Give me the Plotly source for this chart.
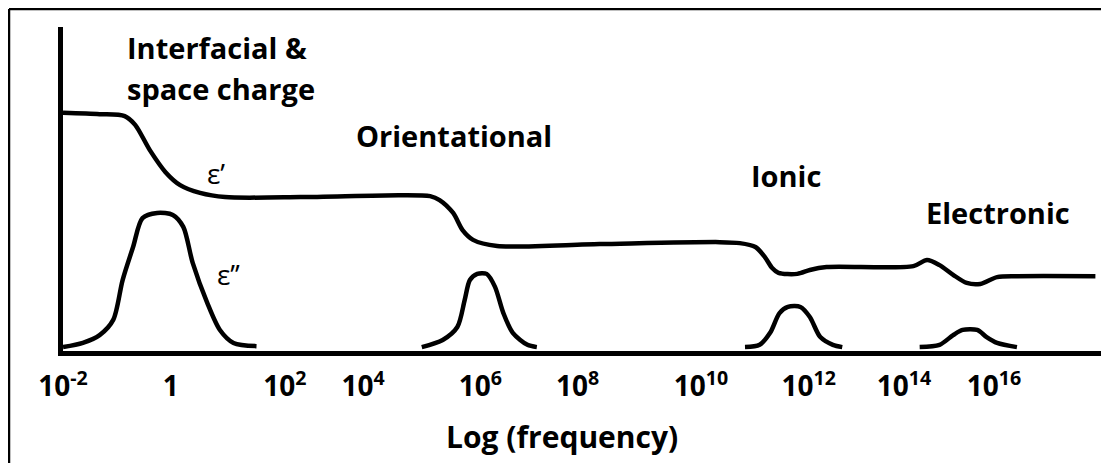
import plotly.graph_objects as go

# Schematic dielectric spectrum. x is a position along the (non-uniform) log-frequency
# axis, 0..100; y is relative permittivity / loss, 0..100.
tick_pos = [0, 10.3, 21.2, 28.7, 39.9, 49.2, 61.0, 71.3, 80.4, 89.0]
tick_text = ["10<sup>-2</sup>", "1", "10<sup>2</sup>", "10<sup>4</sup>", "10<sup>6</sup>",
             "10<sup>8</sup>", "10<sup>10</sup>", "10<sup>12</sup>", "10<sup>14</sup>",
             "10<sup>16</sup>"]

# real part, eps'
eps_real_x = [0, 3.5, 5.9, 6.9, 8.3, 9.8, 11.2, 13.1, 15.5, 22.7, 32.2, 35.1, 36.0, 37.3,
              38.2, 39.2, 41.5, 51.3, 62.8, 64.7, 66.2, 67.1, 67.8, 68.4, 70.2, 71.4, 73.0,
              81.3, 82.6, 83.8, 85.1, 86.4, 87.7, 89.3, 91.2, 98.7]
eps_real_y = [73.5, 73.1, 72.5, 69.8, 62.0, 55.2, 51.2, 48.8, 47.5, 47.5, 48.1, 47.8, 46.6,
              42.6, 37.3, 34.3, 32.4, 33.0, 33.6, 33.3, 32.1, 29.0, 25.6, 24.1, 23.8, 25.0,
              25.9, 26.2, 28.1, 26.5, 23.5, 21.0, 20.7, 22.8, 23.1, 23.1]

# loss peaks, eps''
interfacial_x = [0, 1.9, 3.5, 4.8, 5.7, 6.7, 7.6, 9.0, 10.5, 11.5, 12.4, 13.8, 15.0, 16.3, 18.5]
interfacial_y = [1.2, 2.5, 4.9, 9.6, 21.9, 32.1, 41.0, 42.6, 42.0, 38.3, 27.2, 14.8, 6.5, 2.5, 1.5]
orientational_x = [34.3, 36.3, 37.7, 38.4, 38.9, 39.6, 40.5, 41.3, 42.1, 43.0, 44.4, 45.3]
orientational_y = [1.2, 3.4, 7.4, 15.7, 21.9, 23.8, 23.8, 19.8, 11.7, 5.6, 1.9, 1.2]
ionic_x = [65.2, 66.6, 67.6, 68.5, 69.3, 70.5, 71.4, 72.4, 73.6, 74.5]
ionic_y = [1.2, 1.9, 5.6, 11.7, 13.6, 13.6, 10.5, 4.3, 1.9, 1.2]
electronic_x = [81.9, 83.8, 85.1, 86.0, 87.4, 88.3, 89.3, 91.2]
electronic_y = [1.2, 1.9, 4.9, 6.5, 6.5, 4.3, 2.5, 1.2]

labels = ["Interfacial &", "space charge", "Orientational", "Ionic", "Electronic"]
label_x = [5.9, 5.9, 37.4, 69.1, 89.4]
label_y = [93.8, 80.9, 66.4, 54.3, 42.6]
label_anchor = ["left", "left", "center", "center", "center"]

FONT = "Open Sans"
# page body has an 8px margin, so the figure is drawn 8px smaller and sits inside it
W, H = 1101, 455
L, T, B = 55, 19, 112
PW, PH = W - L, H - T - B

fig = go.Figure()
curves = [(eps_real_x, eps_real_y), (interfacial_x, interfacial_y),
          (orientational_x, orientational_y), (ionic_x, ionic_y),
          (electronic_x, electronic_y)]
for xs, ys in curves:
    fig.add_trace(go.Scatter(x=xs, y=ys, mode="lines",
                             line=dict(color="black", width=4.5, shape="spline", smoothing=0.8),
                             hoverinfo="skip", showlegend=False))

for text, x, y, anchor in zip(labels, label_x, label_y, label_anchor):
    fig.add_annotation(x=x, y=y, text=text, showarrow=False, xanchor=anchor, yanchor="middle",
                       font=dict(family=FONT, size=29, color="black", weight="bold"))

fig.add_annotation(x=14.6, y=54.9, text="ε’", showarrow=False, yanchor="middle",
                   font=dict(family=FONT, size=28, color="black", weight=500))
fig.add_annotation(x=15.8, y=23.8, text="ε’’", showarrow=False, yanchor="middle",
                   font=dict(family=FONT, size=28, color="black", weight=500))
fig.add_annotation(x=(554 - L) / PW, y=-85 / PH, xref="paper", yref="paper",
                   xanchor="center", yanchor="middle",
                   text="Log (frequency)", showarrow=False,
                   font=dict(family=FONT, size=30, color="black", weight="bold"))

# frame round the picture (top and left edges only are visible)
fx, fy = (1 - L) / PW, (PH + T - 1) / PH
fig.add_shape(type="line", xref="paper", yref="paper", x0=fx, x1=1.01, y0=fy, y1=fy,
              line=dict(color="black", width=2.5))
fig.add_shape(type="line", xref="paper", yref="paper", x0=fx, x1=fx, y0=fy, y1=-0.5,
              line=dict(color="black", width=2.5))

fig.update_layout(
    width=W, height=H,
    margin=dict(l=L, r=0, t=T, b=B),
    plot_bgcolor="white", paper_bgcolor="white",
    xaxis=dict(range=[0, 100], showgrid=False, zeroline=False, showline=True,
               linecolor="black", linewidth=4.5, ticks="", ticklabelstandoff=7,
               tickmode="array", tickvals=tick_pos, ticktext=tick_text,
               tickfont=dict(family=FONT, size=28, color="black", weight="bold")),
    yaxis=dict(range=[0, 100], showgrid=False, zeroline=False, showline=True,
               linecolor="black", linewidth=4.5, ticks="", showticklabels=False),
)

fig.write_html("out.html")
